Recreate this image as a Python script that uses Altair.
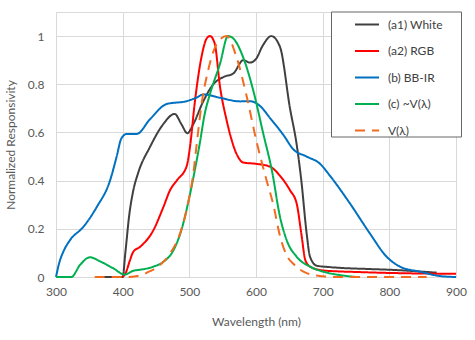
import altair as alt
import pandas as pd

# ---- data ----
series_names = ["(a1) White", "(a2) RGB", "(b) BB-IR", "(c) ~V(λ)", "V(λ)"]
series_colors = ["#404040", "#FF0000", "#0070C0", "#00B050", "#F26B1F"]

white_wl = [360, 400, 404, 410, 416, 423, 441, 461, 478, 488, 497, 506, 521, 536, 551, 566,
            581, 591, 600, 610, 623, 636, 651, 661, 668, 676, 681, 691, 711, 771, 801, 871]
white_val = [0, 0, 0.1, 0.26, 0.36, 0.43, 0.54, 0.635, 0.677, 0.635, 0.597, 0.635, 0.73, 0.80, 0.83, 0.845,
             0.90, 0.89, 0.905, 0.96, 1.0, 0.955, 0.70, 0.55, 0.40, 0.18, 0.084, 0.047, 0.041, 0.033, 0.03, 0.018]

rgb_wl = [400, 405, 411, 416, 426, 446, 461, 471, 481, 496, 501, 508, 518, 526, 531, 538, 546, 556,
          571, 581, 600, 621, 636, 651, 661, 668, 674, 681, 701, 760, 900]
rgb_val = [0, 0.02, 0.07, 0.105, 0.125, 0.194, 0.29, 0.36, 0.40, 0.46, 0.54, 0.72, 0.91, 0.99, 1.0, 0.97, 0.79, 0.65,
           0.51, 0.475, 0.47, 0.458, 0.42, 0.36, 0.305, 0.18, 0.07, 0.043, 0.027, 0.02, 0.013]

bbir_wl = [300, 305, 311, 321, 341, 361, 381, 391, 398, 406, 421, 441, 466, 496, 511, 521, 546, 576,
           591, 606, 621, 641, 656, 676, 696, 711, 741, 771, 796, 816, 846, 876, 900]
bbir_val = [0, 0.06, 0.105, 0.153, 0.208, 0.29, 0.40, 0.5, 0.575, 0.594, 0.594, 0.655, 0.718, 0.73, 0.745, 0.758, 0.744, 0.729,
            0.73, 0.71, 0.66, 0.59, 0.53, 0.50, 0.47, 0.42, 0.305, 0.18, 0.084, 0.043, 0.022, 0.004, 0.0]

cv_wl = [300, 323, 336, 351, 366, 386, 403, 416, 426, 446, 461, 476, 488, 498, 508, 516, 523, 531, 546,
         558, 566, 581, 596, 611, 624, 636, 646, 661, 681, 701, 726, 750]
cv_val = [0, 0, 0.05, 0.082, 0.065, 0.036, 0.01, 0.026, 0.03, 0.043, 0.063, 0.11, 0.194, 0.305, 0.44, 0.56, 0.676, 0.76, 0.885,
          1.0, 0.99, 0.91, 0.773, 0.594, 0.44, 0.25, 0.153, 0.084, 0.043, 0.022, 0.008, 0]

v_wl = [358, 410, 420, 430, 441, 456, 471, 486, 498, 506, 511, 519, 528, 536, 544, 556, 571, 586,
        601, 616, 626, 636, 646, 656, 676, 700, 720, 856]
v_val = [0, 0, 0.003, 0.01, 0.024, 0.05, 0.097, 0.18, 0.305, 0.43, 0.55, 0.73, 0.855, 0.935, 0.98, 1.0, 0.91, 0.75,
         0.56, 0.40, 0.30, 0.17, 0.09, 0.055, 0.016, 0.003, 0, 0]

x_ticks = [300, 400, 500, 600, 700, 800, 900]
y_ticks = [0, 0.2, 0.4, 0.6, 0.8, 1]

rows = []
for name, wl, val in zip(series_names,
                         [white_wl, rgb_wl, bbir_wl, cv_wl, v_wl],
                         [white_val, rgb_val, bbir_val, cv_val, v_val]):
    for w, v in zip(wl, val):
        rows.append({"series": name, "wl": w, "val": v})
df = pd.DataFrame(rows)

FONT = "Lato"
GRID = "#D9D9D9"
TXT = "#595959"

chart = alt.Chart(df).mark_line(interpolate="monotone").encode(
    x=alt.X("wl:Q", scale=alt.Scale(domain=[300, 900], nice=False, zero=False),
            axis=alt.Axis(values=x_ticks, title="Wavelength (nm)", grid=True, gridColor=GRID,
                          domain=False, ticks=False, labelPadding=9, titlePadding=19, labelFlush=False,
                          labelFont=FONT, labelFontSize=12, labelColor=TXT,
                          titleFont=FONT, titleFontSize=12, titleColor=TXT, titleFontWeight="normal")),
    y=alt.Y("val:Q", scale=alt.Scale(domain=[0, 1.1], nice=False),
            axis=alt.Axis(values=y_ticks, title="Normalized Responsivity", grid=True, gridColor=GRID,
                          domain=False, ticks=False, labelPadding=12, titlePadding=10, labelFlush=False,
                          format="~g",
                          labelFont=FONT, labelFontSize=12, labelColor=TXT,
                          titleFont=FONT, titleFontSize=12, titleColor=TXT, titleFontWeight="normal")),
    color=alt.Color("series:N", scale=alt.Scale(domain=series_names, range=series_colors),
                    legend=alt.Legend(title=" ")),
    strokeDash=alt.StrokeDash("series:N",
                              scale=alt.Scale(domain=series_names,
                                              range=[[1, 0], [1, 0], [1, 0], [1, 0], [10, 7]]),
                              legend=alt.Legend(title=" ")),
    strokeWidth=alt.StrokeWidth("series:N",
                                scale=alt.Scale(domain=series_names, range=[2, 2, 2, 2, 3]),
                                legend=None),
).properties(
    width=400, height=265,
    autosize=alt.AutoSizeParams(type="none"),
    padding={"left": 56, "top": 12, "right": 19, "bottom": 63},
).configure_view(
    stroke=GRID, strokeWidth=1
).configure_legend(
    orient="none", legendX=275, legendY=-0.5,
    padding=0, strokeColor="#666666", fillColor="white",
    titleOrient="right", titlePadding=18, titleFontSize=4,
    labelFont=FONT, labelFontSize=12, labelColor="#404040", labelOffset=8,
    symbolType="stroke", symbolSize=576, symbolStrokeWidth=2.5, symbolOffset=23,
    rowPadding=7.5,
)

chart.save("out.html", embed_options={"renderer": "svg", "actions": False})
